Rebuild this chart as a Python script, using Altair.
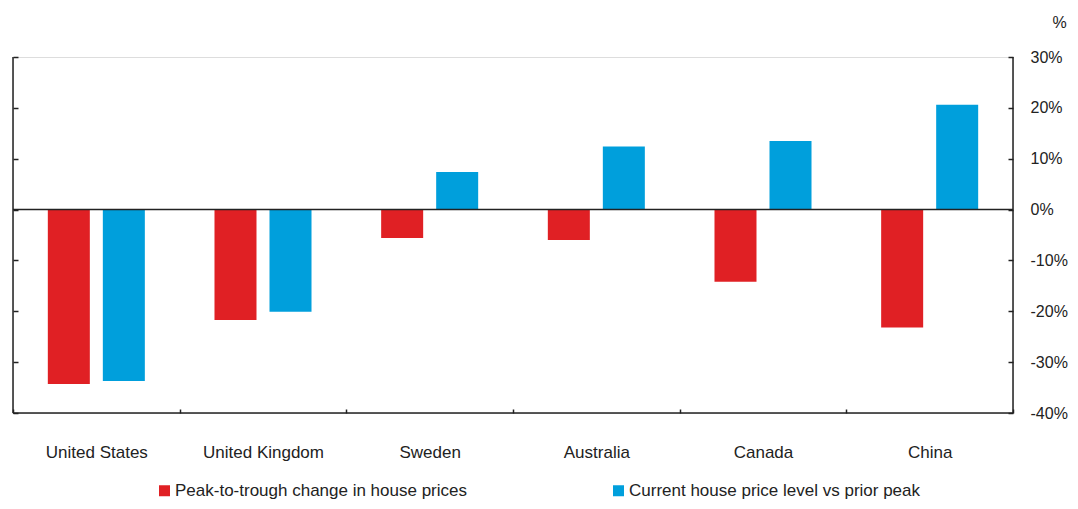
import altair as alt
import pandas as pd

countries = ["United States", "United Kingdom", "Sweden", "Australia", "Canada", "China"]
peak_to_trough = [-34.3, -21.7, -5.6, -6.0, -14.2, -23.2]
current_vs_peak = [-33.7, -20.1, 7.4, 12.4, 13.5, 20.6]
series = ["Peak-to-trough change in house prices", "Current house price level vs prior peak"]
colors = ["#E02024", "#009FDC"]
y_ticks = [-40, -30, -20, -10, 0, 10, 20, 30]
y_domain = [-40, 30]

rows = []
for c, a, b in zip(countries, peak_to_trough, current_vs_peak):
    rows.append({"country": c, "series": series[0], "value": a})
    rows.append({"country": c, "series": series[1], "value": b})
df = pd.DataFrame(rows)

FONT = "Liberation Sans"
INK = "#222222"
W, H = 1000, 356

bars = alt.Chart(df).mark_bar().encode(
    x=alt.X(
        "country:N",
        sort=countries,
        scale=alt.Scale(paddingInner=0, paddingOuter=0),
        axis=alt.Axis(
            title=None, orient="bottom", domain=False, tickBand="extent",
            tickSize=4, offset=-4, tickColor=INK, tickWidth=1.5,
            labelPadding=31, labelFontSize=17, labelAngle=0,
            labelColor=INK, labelFont=FONT, grid=False,
        ),
    ),
    xOffset=alt.XOffset(
        "series:N", sort=series,
        scale=alt.Scale(paddingInner=0.2364, paddingOuter=0.633),
    ),
    y=alt.Y(
        "value:Q",
        scale=alt.Scale(domain=y_domain, nice=False, zero=False),
        axis=alt.Axis(
            title=None, orient="left", values=y_ticks, domain=False,
            labels=False, tickSize=5, offset=-5, grid=False,
            tickColor=INK, tickWidth=1.5,
        ),
    ),
    y2=alt.datum(0),
    color=alt.Color(
        "series:N", sort=series,
        scale=alt.Scale(domain=series, range=colors),
        legend=alt.Legend(
            title=None, orient="none", legendX=143, legendY=425,
            direction="horizontal", symbolType="square", symbolSize=121,
            symbolStrokeWidth=0, labelFontSize=17, labelFont=FONT,
            labelColor=INK, labelOffset=2, columnPadding=142, labelLimit=0,
        ),
    ),
)

frame_df = pd.DataFrame({"k": [0]})
left_line = alt.Chart(frame_df).mark_rule(color=INK, strokeWidth=1.5).encode(
    x=alt.value(0), y=alt.value(0), y2=alt.value(H)
)
right_line = alt.Chart(frame_df).mark_rule(color=INK, strokeWidth=1.5).encode(
    x=alt.value(W), y=alt.value(0), y2=alt.value(H)
)
bottom_line = alt.Chart(frame_df).mark_rule(color=INK, strokeWidth=1.5).encode(
    y=alt.value(H), x=alt.value(0), x2=alt.value(W)
)

zero_rule = alt.Chart(frame_df).mark_rule(color=INK, strokeWidth=1.5).encode(
    y=alt.YDatum(
        0, type="quantitative",
        scale=alt.Scale(domain=y_domain, nice=False, zero=False),
        axis=alt.Axis(
            orient="right", values=y_ticks, domain=False, tickSize=5,
            offset=-5, grid=False, tickColor=INK, tickWidth=1.5,
            labelPadding=17, labelExpr="datum.value + '%'",
            labelFontSize=16, labelFont=FONT, labelColor=INK,
            labelBaseline="middle",
            title="%", titleAngle=0, titleX=51, titleY=-35,
            titleAlign="center", titleBaseline="middle",
            titleFontSize=16, titleFontWeight="normal", titleFont=FONT,
            titleColor=INK,
        ),
    )
)

chart = alt.layer(
    bars, left_line, right_line, bottom_line, zero_rule
).resolve_scale(y="independent").properties(
    width=W, height=H,
    autosize=alt.AutoSizeParams(type="none"),
    padding={"left": 5, "top": 49, "right": 57, "bottom": 88},
).configure_view(stroke=None).configure(font=FONT)

chart.save("out.html", embed_options={"renderer": "svg", "actions": False})
